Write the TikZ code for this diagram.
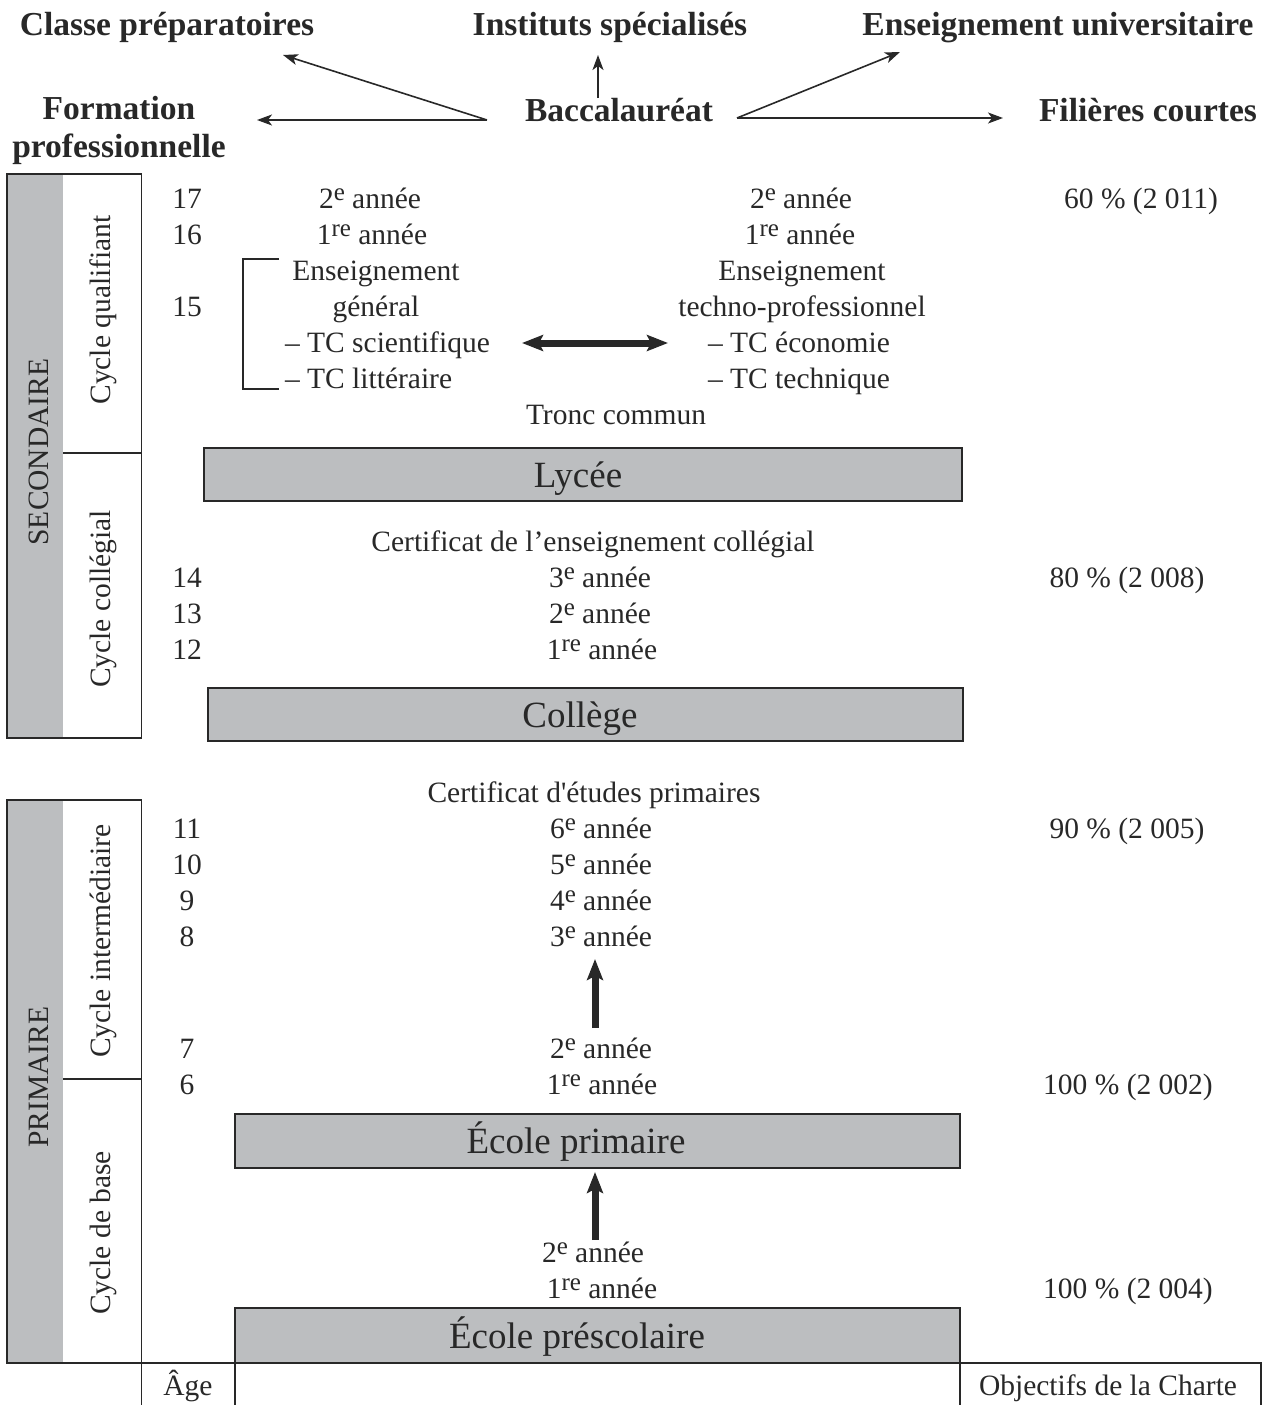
\documentclass[tikz,border=0pt]{standalone}
\usepackage{fontspec}
\setmainfont{Liberation Serif}
\usetikzlibrary{arrows.meta}

\definecolor{ink}{RGB}{40,40,40}
\definecolor{boxgray}{RGB}{188,190,192}

\newcommand\bodyfnt{\fontsize{29.5}{36}\selectfont}
\newcommand\headfnt{\fontsize{33.5}{38}\selectfont\bfseries}
\newcommand\boxfnt{\fontsize{37}{42}\selectfont}
% raised ordinal suffix (2e, 1re)
\newcommand\supx[1]{\raisebox{8pt}{\fontsize{25}{25}\selectfont #1}}

\begin{document}
\begin{tikzpicture}[x=1pt,y=-1pt,
  txt/.style={inner sep=0pt, outer sep=0pt, anchor=base, text=ink, font=\bodyfnt},
  txtl/.style={txt, anchor=base west},
  hd/.style={inner sep=0pt, outer sep=0pt, anchor=base, text=ink, font=\headfnt},
  boxlbl/.style={inner sep=0pt, outer sep=0pt, anchor=base, text=ink, font=\boxfnt},
  stage/.style={draw=ink, fill=boxgray, line width=1.8pt, inner sep=0pt, outer sep=0pt, rectangle},
  vlbl/.style={inner sep=0pt, outer sep=0pt, anchor=base, rotate=90, text=ink, font=\bodyfnt},
  frame/.style={draw=ink, line width=1.8pt},
  thinarr/.style={draw=ink, line width=1.6pt, -{Stealth[length=15pt, width=11pt, inset=4pt]}},
  bigarr/.style={draw=ink, line width=7pt, -{Stealth[length=21pt, width=16pt, inset=4pt]}},
  dblarr/.style={draw=ink, line width=7pt, {Stealth[length=21pt, width=16pt, inset=4pt]}-{Stealth[length=21pt, width=16pt, inset=4pt]}}
]
\useasboundingbox (0,0) rectangle (1270,1405);

% ---------- left frames: levels and cycles ----------
\fill[boxgray] (7,174) rectangle (63,738);
\draw[frame] (7,174) rectangle (141.5,738);
\draw[frame] (63,453) -- (141.5,453);
\fill[boxgray] (7,800) rectangle (63,1363);
\draw[frame] (7,800) rectangle (141.5,1363);
\draw[frame] (63,1079) -- (141.5,1079);

\node[vlbl] (sec) at (48,452) {SECONDAIRE};
\node[vlbl] (prim) at (48,1077) {PRIMAIRE};
\node[vlbl] (cq) at (110,310) {Cycle qualifiant};
\node[vlbl] (cc) at (110,599) {Cycle collégial};
\node[vlbl] (ci) at (110,941) {Cycle intermédiaire};
\node[vlbl] (cb) at (110,1233) {Cycle de base};

% ---------- bottom footer cells ----------
\draw[frame] (141.5,1363) -- (235,1363);
\draw[frame] (141.5,1363) -- (141.5,1406);
\draw[frame] (235,1363) -- (235,1406);
\draw[frame] (960,1406) -- (960,1363) -- (1261,1363) -- (1261,1406);
\node[txt] (age) at (188,1395) {Âge};
\node[txt] (obj) at (1108,1395) {Objectifs de la Charte};

% ---------- headers ----------
\node[hd] (classe) at (167,36) {Classe préparatoires};
\node[hd] (inst) at (610,36) {Instituts spécialisés};
\node[hd] (univ) at (1058,36) {Enseignement universitaire};
\node[hd] (form) at (119,119) {Formation};
\node[hd] (formb) at (119,157) {professionnelle};
\node[hd] (bac) at (619,121) {Baccalauréat};
\node[hd] (fil) at (1148,121) {Filières courtes};

\coordinate (bacL) at (487,120);
\coordinate (bacR) at (737,118);
\coordinate (bacU) at (598,98);
\coordinate (toForm) at (257,120);
\coordinate (toClasse) at (283,55);
\coordinate (toInst) at (598,55);
\coordinate (toUniv) at (900,52);
\coordinate (toFil) at (1003,118);
\draw[thinarr] (bacL) -- (toForm);
\draw[thinarr] (bacL) -- (toClasse);
\draw[thinarr] (bacU) -- (toInst);
\draw[thinarr] (bacR) -- (toUniv);
\draw[thinarr] (bacR) -- (toFil);

% ---------- ages ----------
\node[txt] (a17) at (187,208) {17};
\node[txt] (a16) at (187,244) {16};
\node[txt] (a15) at (187,316) {15};
\node[txt] (a14) at (187,587) {14};
\node[txt] (a13) at (187,623) {13};
\node[txt] (a12) at (187,659) {12};
\node[txt] (a11) at (187,838) {11};
\node[txt] (a10) at (187,874) {10};
\node[txt] (a9) at (187,910) {9};
\node[txt] (a8) at (187,946) {8};
\node[txt] (a7) at (187,1058) {7};
\node[txt] (a6) at (187,1094) {6};

% ---------- qualifying cycle ----------
\node[txt] (l2) at (370,208) {2\supx{e} année};
\node[txt] (l1) at (372,244) {1\supx{re} année};
\node[txt] (lens) at (376,280) {Enseignement};
\node[txt] (lgen) at (376,316) {général};
\node[txtl] (lsci) at (285,352) {– TC scientifique};
\node[txtl] (llit) at (285,388) {– TC littéraire};
\draw[frame] (279,259) -- (243,259) -- (243,389) -- (279,389);

\node[txt] (r2) at (801,208) {2\supx{e} année};
\node[txt] (r1) at (800,244) {1\supx{re} année};
\node[txt] (rens) at (802,280) {Enseignement};
\node[txt] (rtech) at (802,316) {techno-professionnel};
\node[txtl] (reco) at (708,352) {– TC économie};
\node[txtl] (rtec) at (708,388) {– TC technique};

\coordinate (dblL) at (522,343);
\coordinate (dblR) at (668,343);
\draw[dblarr] (dblL) -- (dblR);

\node[txt] (tronc) at (616,424) {Tronc commun};

\node[stage, minimum width=758pt, minimum height=53pt] (lycee) at (583,474.5) {};
\node[boxlbl] (lyceelbl) at (578,487) {Lycée};

% ---------- college cycle ----------
\node[txt] (certcol) at (593,551) {Certificat de l’enseignement collégial};
\node[txt] (c3) at (600,587) {3\supx{e} année};
\node[txt] (c2) at (600,623) {2\supx{e} année};
\node[txt] (c1) at (602,659) {1\supx{re} année};

\node[stage, minimum width=755pt, minimum height=53pt] (college) at (585.5,714.5) {};
\node[boxlbl] (collegelbl) at (580,727) {Collège};

% ---------- primary ----------
\node[txt] (certprim) at (594,802) {Certificat d\textquotesingle études primaires};
\node[txt] (p6) at (601,838) {6\supx{e} année};
\node[txt] (p5) at (601,874) {5\supx{e} année};
\node[txt] (p4) at (601,910) {4\supx{e} année};
\node[txt] (p3) at (601,946) {3\supx{e} année};
\node[txt] (p2) at (601,1058) {2\supx{e} année};
\node[txt] (p1) at (602,1094) {1\supx{re} année};

\coordinate (upAs) at (595,1028);
\coordinate (upAt) at (595,959);
\draw[bigarr] (upAs) -- (upAt);

\node[stage, minimum width=725pt, minimum height=54pt] (ecprim) at (597.5,1141) {};
\node[boxlbl] (ecprimlbl) at (576,1153) {École primaire};

\node[txt] (b2) at (593,1262) {2\supx{e} année};
\node[txt] (b1) at (602,1298) {1\supx{re} année};

\coordinate (upBs) at (595,1240);
\coordinate (upBt) at (595,1172);
\draw[bigarr] (upBs) -- (upBt);

\node[stage, minimum width=725pt, minimum height=55pt] (ecpre) at (597.5,1335.5) {};
\node[boxlbl] (ecprelbl) at (577,1348) {École préscolaire};

% ---------- charter targets ----------
\node[txt] (pc17) at (1141,208) {60 \% (2 011)};
\node[txt] (pc14) at (1127,587) {80 \% (2 008)};
\node[txt] (pc11) at (1127,838) {90 \% (2 005)};
\node[txt] (pc6) at (1128,1094) {100 \% (2 002)};
\node[txt] (pcb) at (1128,1298) {100 \% (2 004)};
\end{tikzpicture}
\end{document}
